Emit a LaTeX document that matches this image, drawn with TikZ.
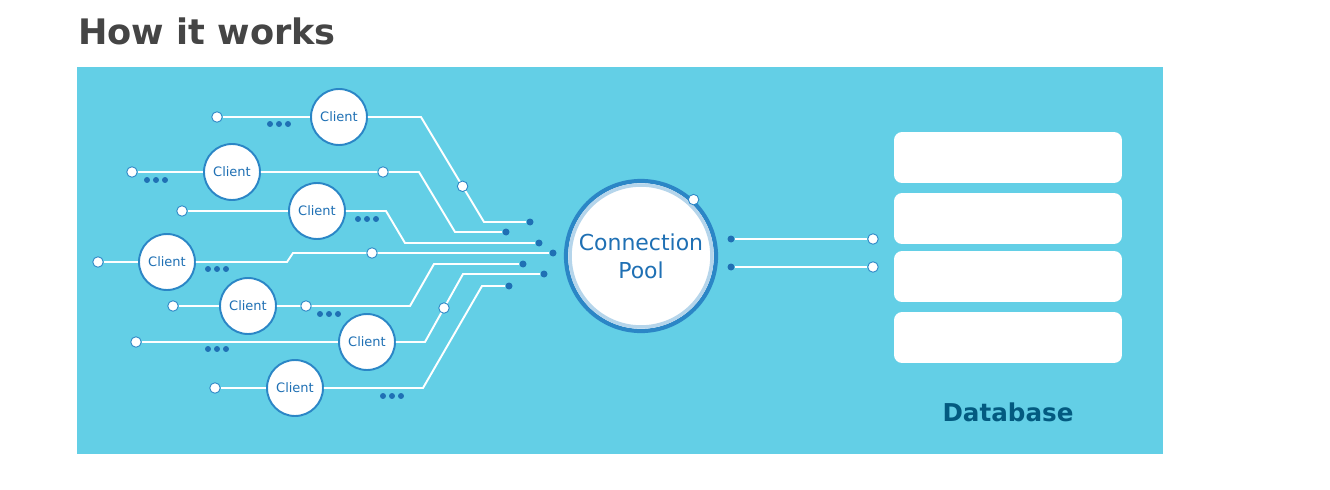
\documentclass[tikz,border=0pt]{standalone}
\usepackage{fontspec}
\setmainfont{DejaVu Sans}
\usetikzlibrary{positioning}
\definecolor{panel}{HTML}{63CFE6}
\definecolor{ink}{HTML}{1F70B4}
\definecolor{rim}{HTML}{2B86C6}
\definecolor{deep}{HTML}{035A80}
\definecolor{headc}{HTML}{454545}

\begin{document}
\begin{tikzpicture}[x=0.02cm,y=-0.02cm,
  client/.style={circle,fill=white,draw=rim,line width=1.1pt,minimum size=1.12cm,inner sep=0pt,
    font=\fontsize{7.4}{8}\selectfont,text=ink},
  port/.style={circle,fill=white,draw=rim,line width=0.5pt,minimum size=0.21cm,inner sep=0pt},
  tip/.style={circle,fill=ink,minimum size=0.14cm,inner sep=0pt},
  wire/.style={white,line width=1.1pt},
  pool/.style={circle,fill=white,draw=rim,line width=2.4pt,minimum size=3cm,align=center,
    text=ink,font=\fontsize{12.5}{16}\selectfont},
  slot/.style={fill=white,rounded corners=0.16cm,minimum width=4.56cm,minimum height=1.02cm,inner sep=0pt}]
  \useasboundingbox (0,0) rectangle (1330,490);

  % title and panel
  \node[anchor=base west,inner sep=0pt,font=\bfseries\fontsize{20}{24}\selectfont,text=headc] (head) at (78,45) {How it works};
  \fill[panel] (77,67) rectangle (1163,454);

  % clients
  \node[client] (c1) at (339,117) {Client};
  \node[client] (c2) at (232,172) {Client};
  \node[client] (c3) at (317,211) {Client};
  \node[client] (c4) at (167,262) {Client};
  \node[client] (c5) at (248,306) {Client};
  \node[client] (c6) at (367,342) {Client};
  \node[client] (c7) at (295,388) {Client};

  % left ends
  \node[port] (l1) at (217,117) {};
  \node[port] (l2) at (132,172) {};
  \node[port] (l3) at (182,211) {};
  \node[port] (l4) at (98,262) {};
  \node[port] (l5) at (173,306) {};
  \node[port] (l6) at (136,342) {};
  \node[port] (l7) at (215,388) {};
  \foreach \i in {1,...,7}
    \draw[wire] (l\i) -- (c\i);

  % ends near the pool
  \node[tip] (t1) at (530,222) {};
  \node[tip] (t2) at (506,232) {};
  \node[tip] (t3) at (539,243) {};
  \node[tip] (t4) at (553,253) {};
  \node[tip] (t5) at (523,264) {};
  \node[tip] (t6) at (544,274) {};
  \node[tip] (t7) at (509,286) {};

  % bends
  \coordinate (k1) at (421,117); \coordinate (j1) at (484,222);
  \coordinate (k2) at (419,172); \coordinate (j2) at (455,232);
  \coordinate (k3) at (386,211); \coordinate (j3) at (405,243);
  \coordinate (k4) at (287,262); \coordinate (j4) at (293,253);
  \coordinate (k5) at (410,306); \coordinate (j5) at (434,264);
  \coordinate (k6) at (425,342); \coordinate (j6) at (463,274);
  \coordinate (k7) at (423,388); \coordinate (j7) at (482,286);

  \node[port] (m2) at (383,172) {};
  \node[port] (m4) at (372,253) {};
  \node[port] (m5) at (306,306) {};

  \draw[wire] (c1) -- (k1) -- node[port,pos=0.66] (q1) {} (j1) -- (t1);
  \draw[wire] (c2) -- (m2) -- (k2) -- (j2) -- (t2);
  \draw[wire] (c3) -- (k3) -- (j3) -- (t3);
  \draw[wire] (c4) -- (k4) -- (j4) -- (m4) -- (t4);
  \draw[wire] (c5) -- (m5) -- (k5) -- (j5) -- (t5);
  \draw[wire] (c6) -- (k6) -- node[port,pos=0.5] (q6) {} (j6) -- (t6);
  \draw[wire] (c7) -- (k7) -- (j7) -- (t7);

  % dots
  \foreach \x/\y in {279/124,156/180,367/219,217/269,329/314,217/349,392/396}
    \foreach \d in {-9,0,9}
      \fill[ink] (\x+\d,\y) circle (1.7pt);

  % pool
  \node[pool] (pool) at (641,256) {Connection\\Pool};
  \draw[rim!35,line width=2pt] (pool.center) circle (1.42cm);
  \node[port] (pp) at (pool.47) {};

  % to the database
  \node[tip] (r1) at (731,239) {};
  \node[tip] (r2) at (731,267) {};
  \node[port] (s1) at (873,239) {};
  \node[port] (s2) at (873,267) {};
  \draw[wire] (r1) -- (s1);
  \draw[wire] (r2) -- (s2);

  % database
  \foreach \y [count=\i] in {157.5,218.5,276.5,337.5}
    \node[slot] (db\i) at (1008,\y) {};
  \node[font=\bfseries\fontsize{14}{16}\selectfont,text=deep] (dbname) at (1008,412) {Database};
\end{tikzpicture}
\end{document}
